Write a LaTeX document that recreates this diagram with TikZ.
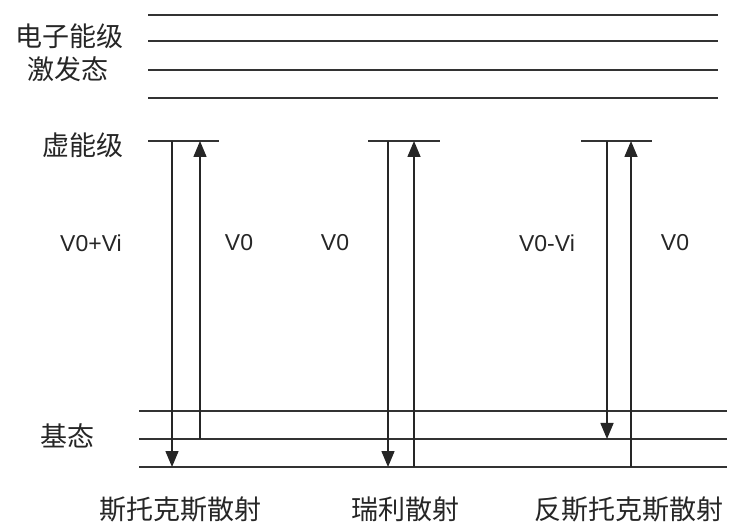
\documentclass[tikz,border=0pt]{standalone}
\usepackage{fontspec}
\setmainfont{Liberation Sans}
\newfontfamily\cjk{Noto Sans CJK SC}
\usetikzlibrary{arrows.meta}
\begin{document}
\begin{tikzpicture}[x=1pt,y=-1pt,
  level/.style={draw=black!80,line width=1.6pt},
  trans/.style={draw=black!85,line width=1.5pt,-{Triangle[width=13pt,length=16pt]}},
  cjklabel/.style={font=\cjk\fontsize{27}{27}\selectfont,text=black!85,inner sep=0pt},
  vlabel/.style={font=\fontsize{23}{23}\selectfont,text=black!85,inner sep=0pt}]
\useasboundingbox[fill=white] (0,0) rectangle (731,526);
% excited electronic levels
\foreach \y/\n in {15/e1,41/e2,70/e3,98/e4}{
  \coordinate (\n L) at (148,\y);
  \coordinate (\n R) at (718,\y);
  \draw[level] (\n L) -- (\n R);
}
% virtual levels
\coordinate (v1L) at (148,141); \coordinate (v1R) at (219,141);
\coordinate (v2L) at (368,141); \coordinate (v2R) at (440,141);
\coordinate (v3L) at (581,141); \coordinate (v3R) at (652,141);
\draw[level] (v1L) -- (v1R);
\draw[level] (v2L) -- (v2R);
\draw[level] (v3L) -- (v3R);
% ground levels
\foreach \y/\n in {411/g1,439/g2,467/g3}{
  \coordinate (\n L) at (139,\y);
  \coordinate (\n R) at (727,\y);
  \draw[level] (\n L) -- (\n R);
}
% transition endpoints
\coordinate (s1t) at (172,141); \coordinate (s1b) at (172,467);
\coordinate (s2t) at (200,141); \coordinate (s2b) at (200,439);
\coordinate (r1t) at (388,141); \coordinate (r1b) at (388,467);
\coordinate (r2t) at (414,141); \coordinate (r2b) at (414,467);
\coordinate (a1t) at (607,141); \coordinate (a1b) at (607,439);
\coordinate (a2t) at (631,141); \coordinate (a2b) at (631,467);
\draw[trans] (s1t) -- (s1b);
\draw[trans] (s2b) -- (s2t);
\draw[trans] (r1t) -- (r1b);
\draw[trans] (r2b) -- (r2t);
\draw[trans] (a1t) -- (a1b);
\draw[trans] (a2b) -- (a2t);
% level labels
\node[cjklabel,anchor=east] (lab1) at (124,36) {电子能级};
\node[cjklabel] (lab2) at (68,69) {激发态};
\node[cjklabel,anchor=east] (lab3) at (124,145) {虚能级};
\node[cjklabel] (lab4) at (67,436) {基态};
% frequency labels
\node[vlabel] (f1) at (91,243) {V0+Vi};
\node[vlabel] (f2) at (239,243) {V0};
\node[vlabel] (f3) at (335,243) {V0};
\node[vlabel] (f4) at (547,243) {V0-Vi};
\node[vlabel] (f5) at (675,243) {V0};
% bottom labels
\node[cjklabel] (b1) at (180,509) {斯托克斯散射};
\node[cjklabel] (b2) at (405,509) {瑞利散射};
\node[cjklabel] (b3) at (629,509) {反斯托克斯散射};
\end{tikzpicture}
\end{document}
